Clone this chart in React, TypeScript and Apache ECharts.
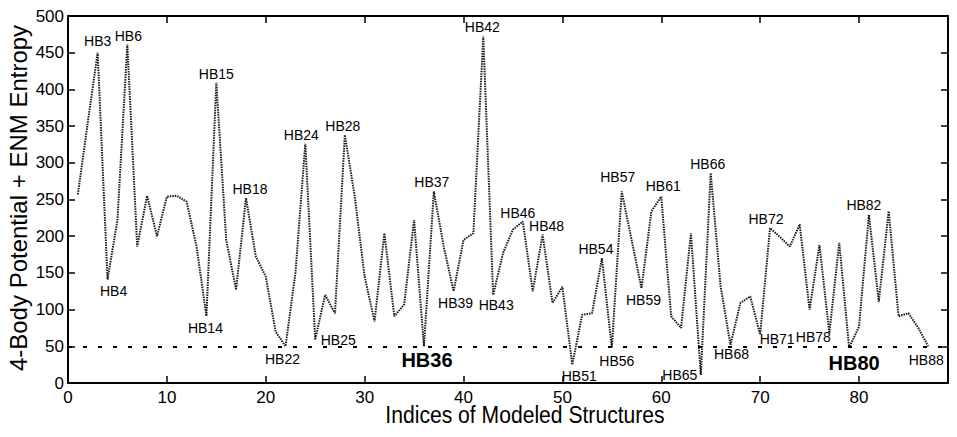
import React, { useEffect, useRef } from "react";
import * as echarts from "echarts";

// Index of each modeled structure (x) and its score (y)
const indices: number[] = Array.from({ length: 87 }, (_, i) => i + 1);
const scores: number[] = [
  257, 355, 450, 141, 222, 461, 186, 255, 200, 254,
  255, 247, 186, 91, 409, 195, 127, 252, 172, 145,
  70, 50, 150, 326, 59, 120, 95, 338, 254, 145,
  84, 204, 91, 107, 222, 50, 261, 186, 125, 195,
  204, 472, 120, 177, 209, 220, 125, 202, 109, 131,
  25, 93, 95, 170, 48, 261, 195, 129, 234, 254,
  91, 75, 204, 11, 286, 132, 52, 109, 118, 66,
  211, 199, 186, 216, 100, 188, 68, 191, 48, 77,
  229, 111, 234, 91, 95, 75, 50,
];
const labelAt: number[] = [3, 4, 6, 14, 15, 18, 22, 24, 25, 28, 36, 37, 39, 42, 43, 46, 48, 51, 54, 55, 56, 58, 60, 64, 65, 67, 70, 71, 77, 79, 81, 87];
const labelText: string[] = ["HB3", "HB4", "HB6", "HB14", "HB15", "HB18", "HB22", "HB24", "HB25", "HB28", "HB36", "HB37", "HB39", "HB42", "HB43", "HB46", "HB48", "HB51", "HB54", "HB56", "HB57", "HB59", "HB61", "HB65", "HB66", "HB68", "HB71", "HB72", "HB78", "HB80", "HB82", "HB88"];
const threshold = 50;
const xTitle = "Indices of Modeled Structures";
const yTitle = "4-Body Potential + ENM Entropy";

// label placement styling: [position, distance, offsetX, offsetY, big]
const placement: Record<string, [string, number, number, number, boolean]> = {
  HB3: ["top", 4, 0, 0, false],
  HB4: ["bottom", 4, 6, 0, false],
  HB6: ["top", 1, 1, 0, false],
  HB14: ["bottom", 4, -1, 0, false],
  HB15: ["top", 1, 0, 0, false],
  HB18: ["top", 2, 4, 0, false],
  HB22: ["bottom", 5, -3, 0, false],
  HB24: ["top", 1, -4, 0, false],
  HB25: ["right", 5, 0, 0, false],
  HB28: ["top", 1, -2, 0, false],
  HB36: ["bottom", 3, 3, 0, true],
  HB37: ["top", 2, -2, 0, false],
  HB39: ["bottom", 4, 2, 0, false],
  HB42: ["top", 2, -1, 0, false],
  HB43: ["bottom", 3, 3, 0, false],
  HB46: ["top", 1, -5, 0, false],
  HB48: ["top", 1, 4, 0, false],
  HB51: ["bottom", 4, 7, 0, false],
  HB54: ["top", 2, -6, 0, false],
  HB56: ["bottom", 6, 5, 0, false],
  HB57: ["top", 7, -4, 0, false],
  HB59: ["bottom", 4, 2, 0, false],
  HB61: ["top", 3, 2, 0, false],
  HB65: ["left", 3, 0, 0, false],
  HB66: ["top", 2, -3, 0, false],
  HB68: ["bottom", 2, 1, 0, false],
  HB71: ["right", 1, -2, 4, false],
  HB72: ["top", 2, -4, 0, false],
  HB78: ["left", 0, 2, 4, false],
  HB80: ["bottom", 5, 5, 0, true],
  HB82: ["top", 2, -5, 0, false],
  HB88: ["bottom", 6, -2, 0, false],
};

const FONT = "'Liberation Sans', Arial, sans-serif";

export default function App() {
  const ref = useRef<HTMLDivElement>(null);
  useEffect(() => {
    if (!ref.current) return;
    const chart = echarts.init(ref.current, undefined, { renderer: "svg" });
    const data = indices.map((x, i) => {
      const k = labelAt.indexOf(x);
      const item: any = { value: [x, scores[i]] };
      if (k >= 0) {
        const t = labelText[k];
        const [pos, dist, ox, oy, big] = placement[t];
        item.label = {
          show: true,
          formatter: t,
          position: pos,
          distance: dist,
          offset: [ox, oy],
          color: "#000",
          fontFamily: FONT,
          fontSize: big ? 20 : 14,
          fontWeight: big ? "bold" : "normal",
        };
      }
      return item;
    });
    const tickCommon = { show: true, inside: true, length: 7, lineStyle: { color: "#000", width: 1.5 } };
    const lineCommon = { show: true, onZero: false, lineStyle: { color: "#000", width: 2 } };
    chart.setOption({
      animation: false,
      backgroundColor: "#fff",
      grid: { left: 68, right: 9, top: 16, bottom: 54, containLabel: false },
      xAxis: [
        {
          type: "value", min: 0, max: 89, interval: 10, position: "bottom",
          axisLine: lineCommon, axisTick: tickCommon, splitLine: { show: false },
          axisLabel: { color: "#000", fontSize: 17, fontFamily: FONT, margin: 6,
            formatter: (v: number) => (v % 10 === 0 ? String(v) : "") },
        },
        {
          type: "value", min: 0, max: 89, interval: 10, position: "top",
          axisLine: lineCommon, axisTick: tickCommon, splitLine: { show: false },
          axisLabel: { show: false },
        },
      ],
      yAxis: [
        {
          type: "value", min: 0, max: 500, interval: 50, position: "left",
          axisLine: lineCommon, axisTick: tickCommon, splitLine: { show: false },
          axisLabel: { color: "#000", fontSize: 17, fontFamily: FONT, margin: 4 },
        },
        {
          type: "value", min: 0, max: 500, interval: 50, position: "right",
          axisLine: lineCommon, axisTick: tickCommon, splitLine: { show: false },
          axisLabel: { show: false },
        },
      ],
      graphic: [
        {
          type: "text", x: 525, y: 415, scaleX: 0.88,
          style: { text: xTitle, fill: "#000", font: `24px ${FONT}`, align: "center", verticalAlign: "middle" },
        },
        {
          type: "text", x: 18, y: 198, rotation: Math.PI / 2,
          style: { text: yTitle, fill: "#000", font: `24px ${FONT}`, align: "center", verticalAlign: "middle" },
        },
      ],
      series: [
        {
          type: "line",
          data,
          symbol: "circle",
          symbolSize: 1,
          showSymbol: true,
          itemStyle: { color: "rgba(0,0,0,0)" },
          lineStyle: { color: "#1a1a1a", width: 2, type: [1.5, 1] },
          z: 3,
          markLine: {
            silent: true,
            symbol: ["none", "none"],
            label: { show: false },
            lineStyle: { color: "#000", width: 2, type: [4, 11] },
            data: [{ yAxis: threshold }],
          },
        },
      ],
    });
    return () => chart.dispose();
  }, []);
  return (
    <div
      ref={ref}
      style={{ position: "fixed", left: 0, top: 0, width: 957, height: 437, background: "#fff" }}
    />
  );
}
